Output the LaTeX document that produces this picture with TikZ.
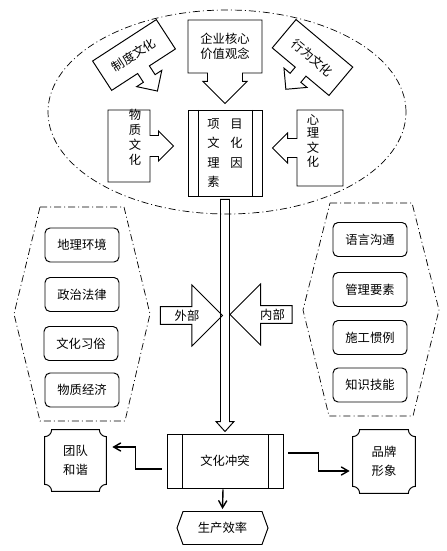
\documentclass[tikz,border=0pt]{standalone}
\usepackage{fontspec}
\setmainfont{Noto Sans CJK SC}
\usetikzlibrary{arrows,calc,shapes.arrows,shapes.symbols}

\newcommand{\plaqueframe}[1]{%
  \draw[line width=0.55pt] ([xshift=1.4mm]#1.north west) -- ([xshift=-1.4mm]#1.north east)
    arc[start angle=180,end angle=270,radius=1.4mm] -- ([yshift=1.4mm]#1.south east)
    arc[start angle=90,end angle=180,radius=1.4mm] -- ([xshift=1.4mm]#1.south west)
    arc[start angle=0,end angle=90,radius=1.4mm] -- ([yshift=-1.4mm]#1.north west)
    arc[start angle=270,end angle=360,radius=1.4mm] -- cycle;}

\begin{document}
\begin{tikzpicture}[x=0.2mm,y=-0.2mm]
    \tikzset{font=\fontsize{7}{8.5}\selectfont,
        align=center,inner sep=0pt}
    \tikzset{box/.style = {draw,line width=0.55pt}}
    \tikzset{callout/.style = {box,shape=arrow box}}
    \tikzset{block/.style = {box,shape=single arrow,single arrow head extend=3mm,minimum height=12.4mm,minimum width=12.2mm}}
    \tikzset{factor/.style = {box,rounded corners=1mm,minimum width=14.8mm,minimum height=6.8mm}}
    \tikzset{subproc/.style = {box,path picture={\draw[line width=0.55pt]
        ([xshift=#1]path picture bounding box.north west) -- ([xshift=#1]path picture bounding box.south west)
        ([xshift=-#1]path picture bounding box.north east) -- ([xshift=-#1]path picture bounding box.south east);}}}
    \tikzset{zone/.style = {line width=0.4pt,dash pattern=on 1.4mm off 0.6mm on 0.2mm off 0.6mm}}
    \tikzset{link/.style = {->,> = angle 60,line width=0.8pt}}
    \useasboundingbox (0,0) rectangle (446,551);

    % zones
    \draw[zone] (227,112) ellipse [x radius=35.8mm,y radius=20.4mm];
    \draw[zone] (40,207) -- (124,207) -- (150,314) -- (125,421) -- (40,421) -- (14,314) -- cycle;
    \draw[zone] (330,203) -- (412,203) -- (439,310) -- (413,416) -- (329,416) -- (303,310) -- cycle;

    % culture
    \node[callout,minimum width=14.8mm,minimum height=10.6mm,arrow box arrows={south:6mm},
        arrow box shaft width=7mm,arrow box head extend=0.9mm] (value) at (225,46.5) {企业核心\\价值观念};
    \node[callout,rotate=33,minimum width=15.2mm,minimum height=7mm,arrow box arrows={south:5mm},
        arrow box shaft width=2.8mm,arrow box head extend=1.6mm] (system) at (134,55) {制度文化};
    \node[callout,rotate=-40,minimum width=14.8mm,minimum height=7.4mm,arrow box arrows={south:4.5mm},
        arrow box shaft width=2.8mm,arrow box head extend=1.6mm] (behavior) at (312.5,57.5) {行为文化};
    \node[callout,minimum width=8.4mm,minimum height=14.4mm,arrow box arrows={east:4.6mm},
        arrow box shaft width=4.2mm,arrow box head extend=0.9mm,font=\fontsize{7}{8.3}\selectfont] (material) at (129,146)
        {\hspace*{2.4mm}\raisebox{1.4mm}[\height][\depth]{\begin{tabular}{@{}c@{}}物\\质\\文\\化\end{tabular}}};
    \node[callout,minimum width=9.2mm,minimum height=15.2mm,arrow box arrows={west:4.8mm},
        arrow box shaft width=3.8mm,arrow box head extend=1.1mm,font=\fontsize{7}{7.6}\selectfont] (mind) at (320,148)
        {\raisebox{1.1mm}[\height][\depth]{\begin{tabular}{@{}c@{}}心\\理\\文\\化\end{tabular}}\hspace*{2.8mm}};
    \node[subproc=2mm,minimum width=14.8mm,minimum height=17.2mm,font=\fontsize{7}{11}\selectfont] (factor) at (225,153)
        {项\hspace{6pt}目\\文\hspace{6pt}化\\理\hspace{6pt}因\\素\hspace{6pt}\phantom{因}};

    % external and internal
    \node[factor] (geo) at (82,245) {地理环境};
    \node[factor] (law) at (82,294.5) {政治法律};
    \node[factor] (custom) at (81,343.5) {文化习俗};
    \node[factor] (economy) at (82,390) {物质经济};
    \node[factor] (language) at (370,239.5) {语言沟通};
    \node[factor] (manage) at (370,289.5) {管理要素};
    \node[factor] (practice) at (370,337.5) {施工惯例};
    \node[factor] (skill) at (370,385) {知识技能};
    \node[block] (external) at (187,315.5) {外部};
    \node[block,shape border rotate=180] (internal) at (265.5,314.5) {\hspace*{2.8mm}内部};

    % results
    \node[subproc=3mm,minimum width=23.2mm,minimum height=10.8mm] (conflict) at (225,461) {文化冲突};
    \node[minimum width=12.2mm,minimum height=12.2mm,font=\fontsize{7}{10.8}\selectfont] (team) at (75.5,460.5) {团队\\和谐};
    \node[minimum width=12.4mm,minimum height=12.6mm,font=\fontsize{7}{10.8}\selectfont] (brand) at (384,461.5) {品牌\\形象};
    \node[box,shape=signal,signal to=east and west,signal pointer angle=140,minimum width=18.2mm,
        minimum height=6.6mm] (efficiency) at (222.5,528) {生产效率};
    \plaqueframe{team}
    \plaqueframe{brand}

    %edges
    \draw[box] ($(factor.south)+(-4.5,3)$) -- ($(conflict.north)+(-4.5,-12)$) -- ++(-4.5,0)
        -- ($(conflict.north)+(0,-2)$) -- ($(conflict.north)+(9,-12)$) -- ++(-4.5,0)
        -- ($(factor.south)+(4.5,3)$) -- cycle;
    \draw[link] ($(conflict.west)+(-5,8)$) -- ++(-26,0) |- ($(team.east)+(6,-13.5)$);
    \draw[link] ($(conflict.east)+(5,-8)$) -- ++(30,0) |- ($(brand.west)+(-3,9.5)$);
    \draw[link] ($(conflict.south)+(-2,1)$) -- ($(efficiency.north)+(0,-2)$);
\end{tikzpicture}
\end{document}
